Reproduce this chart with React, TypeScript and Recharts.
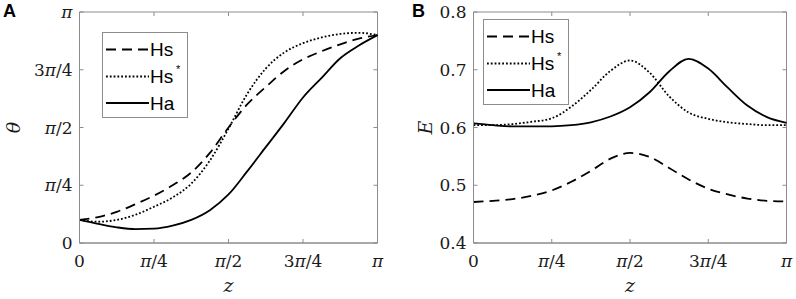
import React from 'react';
import { LineChart, Line, XAxis, YAxis, Legend, ReferenceArea } from 'recharts';

// z positions in units of π
const zPi = [0, 0.0625, 0.125, 0.1875, 0.25, 0.3125, 0.375, 0.4375, 0.5, 0.5625, 0.625, 0.6875, 0.75, 0.8125, 0.875, 0.9375, 1];

// Panel A: θ in units of π
const thetaHs = [0.10, 0.112, 0.135, 0.168, 0.205, 0.25, 0.305, 0.39, 0.50, 0.60, 0.675, 0.745, 0.795, 0.83, 0.86, 0.885, 0.90];
const thetaHsStar = [0.10, 0.092, 0.10, 0.122, 0.157, 0.197, 0.257, 0.357, 0.495, 0.645, 0.755, 0.825, 0.865, 0.89, 0.905, 0.91, 0.90];
const thetaHa = [0.10, 0.083, 0.068, 0.06, 0.062, 0.075, 0.10, 0.142, 0.21, 0.31, 0.415, 0.52, 0.63, 0.715, 0.80, 0.855, 0.90];

// Panel B: E
const energyHs = [0.471, 0.473, 0.476, 0.482, 0.491, 0.506, 0.525, 0.546, 0.556, 0.549, 0.53, 0.51, 0.494, 0.484, 0.477, 0.473, 0.472];
const energyHsStar = [0.604, 0.604, 0.606, 0.61, 0.616, 0.636, 0.665, 0.698, 0.716, 0.695, 0.654, 0.626, 0.615, 0.609, 0.606, 0.604, 0.604];
const energyHa = [0.607, 0.604, 0.602, 0.602, 0.602, 0.604, 0.609, 0.619, 0.635, 0.661, 0.697, 0.719, 0.702, 0.669, 0.638, 0.618, 0.608];

const piTicks = [0, 0.25, 0.5, 0.75, 1];
const piTickLabels = ['0', 'π/4', 'π/2', '3π/4', 'π'];
const eTicks = [0.4, 0.5, 0.6, 0.7, 0.8];
const eTickLabels = ['0.4', '0.5', '0.6', '0.7', '0.8'];

const seriesKeys = ['Hs', 'HsStar', 'Ha'];
const seriesNames = ['Hs', 'Hs*', 'Ha'];
const seriesDash = ['10 6', '1.8 2', undefined];

const thetaData = zPi.map((z, i) => ({ z, Hs: thetaHs[i], HsStar: thetaHsStar[i], Ha: thetaHa[i] }));
const energyData = zPi.map((z, i) => ({ z, Hs: energyHs[i], HsStar: energyHsStar[i], Ha: energyHa[i] }));

const AXIS = '#8c8c8c';
const INK = '#1a1a1a';
const SERIF = '"DejaVu Serif", "Liberation Serif", serif';
const SANS = '"Liberation Sans", Arial, sans-serif';
const TICK_FS = 17;
const TL = 4;
const CHART_W = 398;
const CHART_H = 299;
const PLOT_TOP = 12;
const PLOT_BOTTOM = 243;

function MathText({ s }: { s: string }) {
  const parts = s.split('π');
  const out: any[] = [];
  parts.forEach((p, i) => {
    if (p) out.push(<tspan key={'t' + i}>{p}</tspan>);
    if (i < parts.length - 1) out.push(<tspan key={'p' + i} fontStyle="italic">π</tspan>);
  });
  return <>{out}</>;
}

const makeBottomTick = (values: number[], labels: string[], plotH: number) => (props: any) => {
  const { x, y, payload } = props;
  const idx = values.indexOf(payload.value);
  return (
    <g>
      <line x1={x} x2={x} y1={y} y2={y - TL} stroke={AXIS} strokeWidth={1} />
      <line x1={x} x2={x} y1={y - plotH} y2={y - plotH + TL} stroke={AXIS} strokeWidth={1} />
      <text x={x} y={y + 18} textAnchor="middle" dominantBaseline="central" fontFamily={SERIF} fontSize={TICK_FS} fill={INK}>
        <MathText s={labels[idx] ?? ''} />
      </text>
    </g>
  );
};

const makeLeftTick = (values: number[], labels: string[], plotW: number) => (props: any) => {
  const { x, y, payload } = props;
  const idx = values.indexOf(payload.value);
  return (
    <g>
      <line x1={x} x2={x + TL} y1={y} y2={y} stroke={AXIS} strokeWidth={1} />
      <line x1={x + plotW} x2={x + plotW - TL} y1={y} y2={y} stroke={AXIS} strokeWidth={1} />
      <text x={x - 7} y={y} textAnchor="end" dominantBaseline="central" fontFamily={SERIF} fontSize={TICK_FS} fill={INK}>
        <MathText s={labels[idx] ?? ''} />
      </text>
    </g>
  );
};

const LegendBox = (props: any) => {
  const payload = props.payload || [];
  const rowsY = [17.5, 44.5, 71];
  return (
    <svg width={87} height={87} style={{ display: 'block' }}>
      <rect x={0.5} y={0.5} width={85} height={85} fill="#fff" stroke={AXIS} strokeWidth={1} />
      {seriesNames.map((name, i) => {
        const entry = payload.find((e: any) => e.value === name);
        if (!entry) return null;
        const star = name.endsWith('*');
        const base = star ? name.slice(0, -1) : name;
        return (
          <g key={name}>
            <line x1={4} x2={47} y1={rowsY[i]} y2={rowsY[i]} stroke="#000" strokeWidth={1.8} strokeDasharray={seriesDash[i]} />
            <text x={48} y={rowsY[i] + 6.5} fontFamily={SANS} fontSize={19} fill="#000">
              {base}
            </text>
            {star && (
              <text x={74} y={rowsY[i] - 4} fontFamily={SANS} fontSize={11} fill="#000">
                *
              </text>
            )}
          </g>
        );
      })}
    </svg>
  );
};

function Panel({ data, yTicks, yLabels, yDomain, yName, margin, legendPos, yLabelX }: any) {
  const plotLeft = margin.left + 60;
  const plotRight = CHART_W - margin.right;
  const plotW = plotRight - plotLeft;
  const plotH = PLOT_BOTTOM - PLOT_TOP;
  const cx = (plotLeft + plotRight) / 2;
  return (
    <LineChart width={CHART_W} height={CHART_H} data={data} margin={margin}>
      <XAxis
        dataKey="z" type="number" domain={[0, 1]} ticks={piTicks} interval={0}
        height={30} axisLine={{ stroke: AXIS, strokeWidth: 1 }} tickLine={false} tickSize={0} tickMargin={0}
        tick={makeBottomTick(piTicks, piTickLabels, plotH)}
        label={{
          content: () => (
            <text x={cx} y={285} textAnchor="middle" dominantBaseline="central" fontFamily={SERIF} fontStyle="italic" fontSize={19} fill={INK}>z</text>
          ),
        }}
      />
      <YAxis
        type="number" domain={yDomain} ticks={yTicks} interval={0} width={60}
        axisLine={{ stroke: AXIS, strokeWidth: 1 }} tickLine={false} tickSize={0} tickMargin={0}
        tick={makeLeftTick(yTicks, yLabels, plotW)}
        label={{
          content: () => (
            <text x={yLabelX} y={127.5} transform={`rotate(-90 ${yLabelX} 127.5)`} textAnchor="middle" dominantBaseline="central" fontFamily={SERIF} fontStyle="italic" fontSize={19} fill={INK}>{yName}</text>
          ),
        }}
      />
      <ReferenceArea x1={0} x2={1} y1={yDomain[0]} y2={yDomain[1]} fill="none" stroke={AXIS} strokeWidth={1} ifOverflow="visible" />
      {seriesKeys.map((k, i) => (
        <Line
          key={k} type="monotone" dataKey={k} name={seriesNames[i]} stroke="#000" strokeWidth={1.8}
          strokeDasharray={seriesDash[i]} dot={false} activeDot={false} isAnimationActive={false}
        />
      ))}
      <Legend
        layout="vertical" align="center" verticalAlign="middle"
        content={LegendBox}
        wrapperStyle={{ left: legendPos.left, top: legendPos.top, width: 87, height: 87, margin: 0, padding: 0 }}
      />
    </LineChart>
  );
}

export default function App() {
  return (
    <div style={{ position: 'absolute', left: 0, top: 0, width: 796, height: 299, background: '#fff', overflow: 'hidden' }}>
      <div style={{ position: 'absolute', left: 0, top: 0 }}>
        <Panel
          data={thetaData} yTicks={piTicks} yLabels={piTickLabels} yDomain={[0, 1]} yName="θ"
          margin={{ top: 12, right: 20.5, bottom: 26, left: 19.5 }}
          legendPos={{ left: 101.5, top: 31.5 }} yLabelX={12.5}
        />
      </div>
      <div style={{ position: 'absolute', left: 398, top: 0 }}>
        <Panel
          data={energyData} yTicks={eTicks} yLabels={eTickLabels} yDomain={[0.4, 0.8]} yName="E"
          margin={{ top: 12, right: 9.5, bottom: 26, left: 15.5 }}
          legendPos={{ left: 84.5, top: 18.5 }} yLabelX={26.5}
        />
      </div>
      <div style={{ position: 'absolute', left: 3, top: 1, fontFamily: SANS, fontWeight: 'bold', fontSize: 18, lineHeight: '20px', color: '#000' }}>A</div>
      <div style={{ position: 'absolute', left: 412, top: 1, fontFamily: SANS, fontWeight: 'bold', fontSize: 18, lineHeight: '20px', color: '#000' }}>B</div>
    </div>
  );
}
